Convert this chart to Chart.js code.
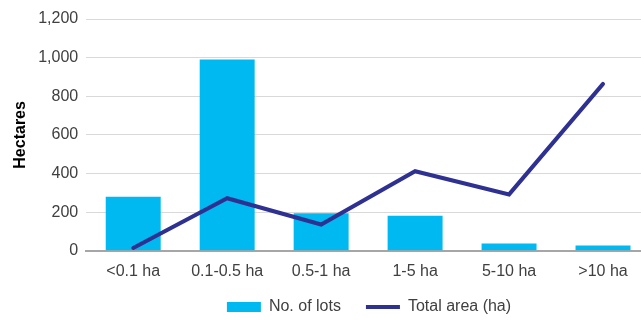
<!DOCTYPE html>
<html>
<head>
<meta charset="utf-8">
<script src="https://cdn.jsdelivr.net/npm/chart.js@4/dist/chart.umd.min.js"></script>
<style>
html, body { margin: 0; padding: 0; background: #fff; overflow: hidden; width: 641px; height: 320px; }
#wrap { position: relative; width: 650px; height: 320px; }
</style>
</head>
<body>
<div id="wrap"><canvas id="c"></canvas></div>
<script>
const categories = ['<0.1 ha', '0.1-0.5 ha', '0.5-1 ha', '1-5 ha', '5-10 ha', '>10 ha'];
const lotsValues = [280, 990, 194, 182, 38, 27];
const areaValues = [15, 272, 136, 412, 292, 864];
const yTicksMin = 0;
const yTicksMax = 1200;
const yTicksStep = 200;

const FONT = '"Liberation Sans", Arial, Helvetica, sans-serif';

const legendShift = {
  id: 'legendShift',
  afterLayout(chart) {
    const lg = chart.legend;
    if (!lg) return;
    const dx = 42;
    lg.left += dx; lg.right += dx;
    lg.top = 274; lg.bottom = 320; lg.height = 46;
  }
};

new Chart(document.getElementById('c'), {
  data: {
    labels: categories,
    datasets: [
      {
        type: 'line',
        label: 'Total area (ha)',
        data: areaValues,
        borderColor: '#2e3192',
        backgroundColor: '#2e3192',
        borderWidth: 4,
        pointRadius: 0,
        tension: 0,
        borderCapStyle: 'round',
        borderJoinStyle: 'miter',
        order: 0
      },
      {
        type: 'bar',
        label: 'No. of lots',
        data: lotsValues,
        backgroundColor: '#00b9f1',
        borderWidth: 0,
        categoryPercentage: 1,
        barPercentage: 0.585,
        order: 1
      }
    ]
  },
  options: {
    responsive: true,
    maintainAspectRatio: false,
    animation: false,
    layout: { padding: { top: 19, right: 0, left: 4, bottom: 0 } },
    scales: {
      x: {
        grid: { display: false, drawTicks: false },
        border: { display: true, color: '#a6a6a6', width: 2 },
        ticks: { color: '#404040', font: { family: FONT, size: 16 }, padding: 11, maxRotation: 0 }
      },
      y: {
        min: yTicksMin,
        max: yTicksMax,
        ticks: { stepSize: yTicksStep, color: '#404040', font: { family: FONT, size: 16 }, padding: 8 },
        grid: { color: '#d9d9d9', lineWidth: 1, drawTicks: false },
        border: { display: false },
        title: { display: true, text: 'Hectares', color: '#000', font: { family: FONT, size: 16, weight: 'bold' }, padding: { top: 7, bottom: 0 } }
      }
    },
    plugins: {
      tooltip: { enabled: false },
      legend: {
        position: 'bottom',
        maxHeight: 28,
        reverse: true,
        labels: {
          color: '#404040',
          font: { family: FONT, size: 16 },
          usePointStyle: true,
          pointStyleWidth: 34,
          boxHeight: 10,
          padding: 25,
          generateLabels(chart) {
            const items = Chart.defaults.plugins.legend.labels.generateLabels(chart);
            items.forEach(it => {
              const ds = chart.data.datasets[it.datasetIndex];
              if (ds.type === 'line') {
                it.pointStyle = 'line';
                it.lineWidth = 4;
                it.strokeStyle = ds.borderColor;
                it.fillStyle = ds.borderColor;
              } else {
                it.pointStyle = 'rect';
                it.lineWidth = 0;
                it.strokeStyle = ds.backgroundColor;
                it.fillStyle = ds.backgroundColor;
              }
            });
            return items;
          }
        }
      }
    }
  },
  plugins: [legendShift]
});
</script>
</body>
</html>
